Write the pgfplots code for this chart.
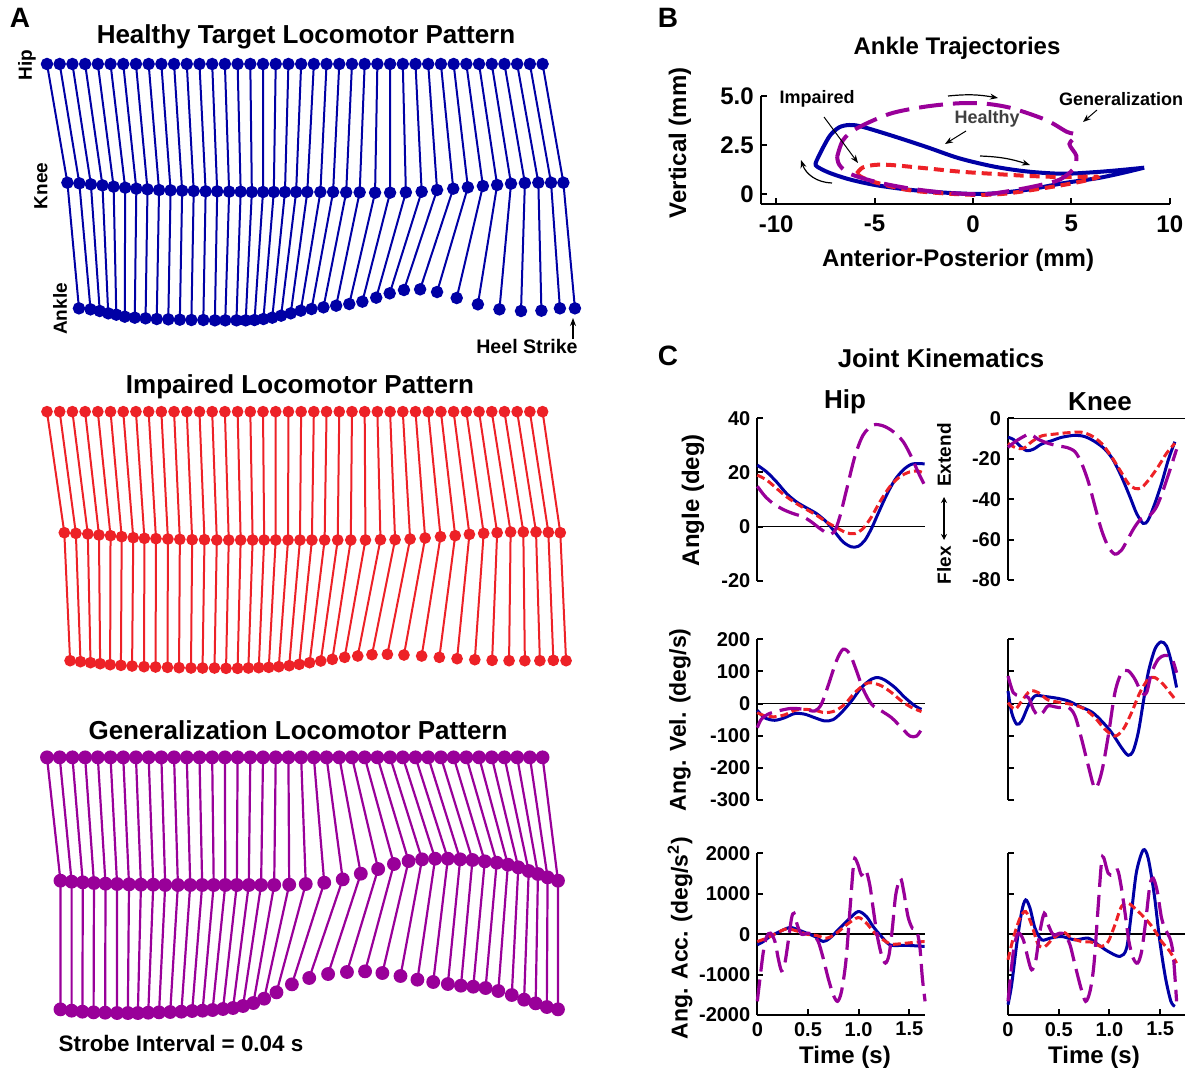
\documentclass[border=0pt]{standalone}
\usepackage{fontspec}
\setmainfont{Liberation Sans}
\usepackage{pgfplots}
\pgfplotsset{compat=1.18}
\usetikzlibrary{arrows.meta}
\definecolor{hb}{RGB}{0,0,165}
\definecolor{ir}{RGB}{237,33,39}
\definecolor{gp}{RGB}{153,0,153}
\newcommand{\fs}[1]{\fontsize{#1}{#1}\selectfont\bfseries}
\pgfplotsset{
  noarrows/.style={axis line style={-}, every outer x axis line/.append style={-}, every outer y axis line/.append style={-}, every inner x axis line/.append style={-}, every inner y axis line/.append style={-}},
  stick/.style={scale only axis, hide axis, clip=false, xmin=0, xmax=1560, ymin=0, y dir=reverse, anchor=north west, width=300.35pt, unbounded coords=jump},
  cax/.style={scale only axis, clip=false, anchor=south west, noarrows,
    axis y line*=left, axis line style={line width=1pt}, tick style={black, line width=1pt}, major tick length=3pt, tick align=inside,
    tick label style={font=\fs{10pt}}, /pgf/number format/assume math mode=true, /pgf/number format/1000 sep={}},
  hipc/.style={cax, width=83.85pt, xmin=0, xmax=1.655},
  kneec/.style={cax, width=88.5pt, xmin=0, xmax=1.745},
  toprow/.style={axis x line=none, xtick=\empty},
  botrow/.style={axis x line*=bottom, xtick={0,0.5,1,1.5}, xticklabels={0,0.5,1.0,1.5}},
  hbl/.style={hb, line width=1.5pt, smooth},
  irl/.style={ir, line width=1.5pt, smooth, dash pattern=on 4pt off 2pt},
  gpl/.style={gp, line width=1.6pt, smooth, dash pattern=on 11pt off 4pt},
  zl/.style={black, line width=0.8pt},
}
\begin{document}
\begin{tikzpicture}
\useasboundingbox (0,0) rectangle (593.5pt,-535pt);
% ---------------- Panel A: Healthy ----------------
\begin{axis}[stick, at={(-0.57pt,0pt)}, height=180pt, ymax=1080]
\addplot[hb, line width=1pt, mark=*, mark size=2.6pt, mark options={solid, fill=hb, draw=hb}] table {
125 192
178 548
208 925
nan nan
158 192
209 550
238 928
nan nan
191 192
239 553
262 933
nan nan
224 192
269 556
284 940
nan nan
257 192
298 560
305 944
nan nan
290 192
328 563
327 950
nan nan
323 192
357 566
353 953
nan nan
356 192
386 568
381 955
nan nan
389 192
416 570
410 957
nan nan
422 192
446 571
440 958
nan nan
455 192
476 572
470 959
nan nan
488 192
506 573
500 960
nan nan
521 192
537 574
531 960
nan nan
554 192
567 574
561 961
nan nan
587 192
598 575
588 961
nan nan
620 192
628 575
617 961
nan nan
653 192
657 576
641 961
nan nan
686 192
686 576
664 960
nan nan
719 192
714 576
687 957
nan nan
752 192
743 576
710 953
nan nan
785 192
772 576
733 947
nan nan
818 192
801 576
758 940
nan nan
851 192
835 576
784 932
nan nan
884 192
868 576
812 927
nan nan
917 192
902 577
843 922
nan nan
950 192
937 577
876 917
nan nan
983 192
977 578
910 912
nan nan
1016 192
1016 578
944 905
nan nan
1049 192
1057 577
980 893
nan nan
1082 192
1098 575
1015 880
nan nan
1115 192
1138 570
1052 870
nan nan
1148 192
1180 566
1094 868
nan nan
1181 192
1218 562
1138 876
nan nan
1214 192
1257 558
1189 894
nan nan
1247 192
1294 555
1244 913
nan nan
1280 192
1330 551
1300 928
nan nan
1313 192
1366 549
1356 933
nan nan
1346 192
1401 548
1409 932
nan nan
1379 192
1434 548
1457 925
nan nan
1412 192
1466 548
1496 925
};
\end{axis}
% ---------------- Panel A: Impaired ----------------
\begin{axis}[stick, at={(-0.57pt,-180pt)}, height=170pt, ymax=1020]
\addplot[ir, line width=1pt, mark=*, mark size=2.4pt, mark options={solid, fill=ir, draw=ir}] table {
125 155
170 518
185 902
nan nan
158 155
200 520
212 905
nan nan
191 155
231 522
238 908
nan nan
224 155
260 525
263 911
nan nan
257 155
290 527
289 914
nan nan
290 155
319 530
317 916
nan nan
323 155
349 533
346 918
nan nan
356 155
378 535
377 920
nan nan
389 155
408 536
407 921
nan nan
422 155
439 537
438 922
nan nan
455 155
470 538
468 923
nan nan
488 155
502 539
499 924
nan nan
521 155
534 539
529 924
nan nan
554 155
566 540
560 924
nan nan
587 155
597 540
590 925
nan nan
620 155
628 540
620 925
nan nan
653 155
659 540
648 924
nan nan
686 155
689 540
675 923
nan nan
719 155
719 540
701 922
nan nan
752 155
751 540
727 920
nan nan
785 155
782 540
754 917
nan nan
818 155
813 540
780 913
nan nan
851 155
846 540
807 908
nan nan
884 155
880 540
836 903
nan nan
917 155
914 540
866 898
nan nan
950 155
952 540
898 892
nan nan
983 155
991 539
932 888
nan nan
1016 155
1029 539
969 884
nan nan
1049 155
1068 537
1009 883
nan nan
1082 155
1107 534
1052 885
nan nan
1115 155
1147 530
1098 888
nan nan
1148 155
1185 527
1144 892
nan nan
1181 155
1222 523
1190 896
nan nan
1214 155
1259 520
1236 899
nan nan
1247 155
1294 518
1281 901
nan nan
1280 155
1329 516
1325 902
nan nan
1313 155
1362 516
1366 902
nan nan
1346 155
1395 516
1405 902
nan nan
1379 155
1427 517
1440 901
nan nan
1412 155
1458 518
1473 902
};
\end{axis}
% ---------------- Panel A: Generalization ----------------
\begin{axis}[stick, at={(-0.57pt,-350pt)}, height=185pt, ymax=1110]
\addplot[gp, line width=1.1pt, mark=*, mark size=2.9pt, mark options={solid, fill=gp, draw=gp}] table {
125 172
160 542
160 928
nan nan
158 172
189 545
189 932
nan nan
191 172
218 547
217 935
nan nan
224 172
247 549
246 937
nan nan
257 172
277 551
276 938
nan nan
290 172
307 552
307 939
nan nan
323 172
338 553
335 939
nan nan
356 172
369 554
361 939
nan nan
389 172
401 554
388 938
nan nan
422 172
432 555
416 937
nan nan
455 172
465 555
445 936
nan nan
488 172
497 555
474 935
nan nan
521 172
528 555
502 933
nan nan
554 172
558 555
529 932
nan nan
587 172
588 555
555 930
nan nan
620 172
618 555
582 927
nan nan
653 172
649 555
608 924
nan nan
686 172
681 555
634 918
nan nan
719 172
715 555
661 909
nan nan
752 172
754 554
689 896
nan nan
785 172
797 552
721 877
nan nan
818 172
845 548
761 853
nan nan
851 172
893 538
806 834
nan nan
884 172
940 521
855 822
nan nan
917 172
985 507
904 816
nan nan
950 172
1026 492
951 814
nan nan
983 172
1064 483
996 819
nan nan
1016 172
1099 478
1043 828
nan nan
1049 172
1133 476
1087 839
nan nan
1082 172
1166 476
1128 846
nan nan
1115 172
1198 478
1166 852
nan nan
1148 172
1230 480
1200 857
nan nan
1181 172
1262 484
1232 860
nan nan
1214 172
1293 488
1264 864
nan nan
1247 172
1322 494
1297 873
nan nan
1280 172
1349 502
1332 885
nan nan
1313 172
1376 513
1364 899
nan nan
1346 172
1400 522
1394 910
nan nan
1379 172
1425 532
1423 921
nan nan
1412 172
1452 542
1452 928
};
\end{axis}
% ---------------- Panel B ----------------
\begin{axis}[cax, at={(380.4pt,-102.15pt)}, width=204.5pt, height=54.15pt,
  xmin=-10.78, xmax=10, ymin=-0.53, ymax=5, axis x line*=bottom,
  xtick={-10,-5,0,5,10}, ytick={0,2.5,5}, yticklabels={0,2.5,5.0},
  tick label style={font=\fs{12pt}}, xticklabel style={yshift=-2pt}]
\addplot[hb, line width=2pt, smooth] table {
8.7 1.34
7.5 1.05
6.3 0.8
4.6 0.55
2.8 0.22
1.1 0.03
0 0
-1.5 0.07
-3.3 0.22
-5.0 0.46
-6.3 0.75
-7.3 1.08
-7.9 1.38
-8.0 1.55
-7.85 1.9
-7.6 2.4
-7.25 3.0
-6.8 3.4
-6.3 3.52
-5.7 3.45
-4.2 3.0
-2.4 2.41
-0.7 1.82
1.1 1.39
2.8 1.14
4.6 1.03
6.3 1.12
7.5 1.22
8.7 1.34
};
\addplot[ir, line width=2pt, smooth, dash pattern=on 5pt off 3pt] table {
-5.9 1.05
-5.6 1.35
-5.0 1.48
-4.2 1.48
-2.4 1.31
-0.7 1.14
1.1 1.02
2.8 0.92
4.6 0.86
6.3 0.88
5.8 0.7
4.6 0.46
2.8 0.17
1.5 0.0
0.2 -0.05
-1.5 0.03
-3.3 0.2
-5.0 0.6
-5.7 0.88
-5.9 1.05
};
\addplot[gp, line width=2pt, smooth, dash pattern=on 12pt off 5pt] table {
-6.9 1.9
-6.6 2.75
-5.9 3.35
-4.2 4.1
-2.4 4.46
-0.7 4.63
0.7 4.6
2.0 4.37
3.7 3.78
4.75 3.18
5.25 3.0
4.9 2.55
5.25 1.95
5.15 1.35
4.75 0.95
4.2 0.65
2.8 0.32
1.1 0.03
0.2 -0.02
-1.5 0.07
-3.3 0.29
-5.0 0.63
-6.3 1.05
-6.8 1.5
-6.9 1.9
};
\end{axis}
% ---------------- Panel C: Hip angle ----------------
\begin{axis}[hipc, toprow, at={(378.65pt,-290.35pt)}, height=81.2pt, ymin=-20, ymax=40, ytick={-20,0,20,40}]
\addplot[zl] coordinates {(0,0) (1.655,0)};
\addplot[hbl] table {
0 22.7
0.092 20.2
0.190 16.5
0.289 12.2
0.387 9.1
0.486 6.9
0.584 4.8
0.683 1.7
0.765 -2.0
0.847 -5.7
0.929 -7.5
0.995 -7.3
1.061 -5.1
1.127 -0.7
1.192 4.8
1.275 11.6
1.357 17.2
1.439 20.9
1.520 23.0
1.602 23.3
1.651 23.1
};
\addplot[irl] table {
0 19.0
0.092 17.2
0.190 14.1
0.289 11.0
0.387 8.5
0.486 6.3
0.584 4.2
0.683 1.7
0.782 -0.4
0.880 -2.3
0.962 -2.6
1.044 -0.7
1.127 3.6
1.209 9.1
1.307 14.7
1.406 18.4
1.505 20.2
1.586 20.5
1.651 19.6
};
\addplot[gpl] table {
0 14.9
0.076 11.2
0.157 8.5
0.256 6.3
0.354 4.8
0.453 3.6
0.535 1.7
0.617 -0.7
0.699 -2.6
0.759 -2.0
0.814 3.6
0.880 13.5
0.962 25.8
1.044 33.8
1.143 37.5
1.242 37.2
1.340 35.1
1.439 31.4
1.520 25.8
1.586 20.2
1.651 15.3
};
\end{axis}
% ---------------- Panel C: Knee angle ----------------
\begin{axis}[kneec, toprow, at={(504pt,-290pt)}, height=80.85pt, ymin=-80, ymax=0, ytick={-80,-60,-40,-20,0}]
\addplot[zl] coordinates {(0,0) (1.745,0)};
\addplot[hbl] table {
0 -9.4
0.052 -10.4
0.118 -13.7
0.184 -16.0
0.250 -15.3
0.332 -12.7
0.430 -11.1
0.529 -9.4
0.660 -8.4
0.759 -9.1
0.858 -11.6
0.955 -15.3
1.037 -20.6
1.119 -28.9
1.202 -38.8
1.267 -47.0
1.333 -52.0
1.382 -50.3
1.448 -42.1
1.514 -32.2
1.580 -20.6
1.645 -11.6
};
\addplot[irl] table {
0 -12.4
0.069 -14.4
0.151 -14.9
0.233 -11.6
0.332 -8.7
0.463 -7.8
0.595 -7.1
0.726 -6.9
0.825 -8.7
0.922 -12.4
1.021 -19.0
1.103 -25.6
1.185 -32.2
1.251 -34.7
1.317 -34.3
1.399 -29.7
1.481 -23.9
1.563 -17.3
1.645 -12.4
};
\addplot[gpl] table {
0 -14.4
0.069 -11.6
0.151 -9.1
0.217 -7.8
0.299 -10.4
0.397 -12.4
0.496 -13.7
0.578 -14.4
0.660 -16.5
0.726 -22.3
0.792 -31.4
0.858 -43.7
0.922 -55.3
0.988 -63.5
1.054 -67.2
1.119 -65.2
1.185 -59.4
1.251 -53.6
1.317 -49.5
1.399 -47.9
1.465 -43.7
1.530 -35.5
1.596 -25.6
1.662 -15.3
};
\end{axis}
% ---------------- Panel C: Hip velocity ----------------
\begin{axis}[hipc, toprow, at={(378.65pt,-400pt)}, height=80.35pt, ymin=-300, ymax=200, ytick={-300,-200,-100,0,100,200}]
\addplot[zl] coordinates {(0,0) (1.655,0)};
\addplot[hbl] table {
0 -21
0.072 -44
0.171 -52
0.270 -44
0.369 -31
0.468 -33
0.567 -44
0.665 -54
0.748 -50
0.830 -28
0.929 8
1.028 50
1.127 76
1.193 81
1.259 73
1.358 50
1.456 19
1.555 -7
1.620 -18
};
\addplot[irl] table {
0 -28
0.072 -38
0.171 -41
0.270 -35
0.369 -21
0.468 -18
0.567 -21
0.665 -28
0.764 -23
0.863 -2
0.962 34
1.061 60
1.127 65
1.226 55
1.325 34
1.423 8
1.522 -12
1.620 -25
};
\addplot[gpl] table {
0 -75
0.039 -49
0.105 -33
0.204 -23
0.336 -15
0.468 -18
0.567 -23
0.632 -2
0.698 55
0.781 133
0.847 169
0.913 154
0.979 102
1.044 45
1.127 -2
1.226 -23
1.325 -44
1.423 -75
1.506 -101
1.572 -101
1.620 -80
};
\end{axis}
% ---------------- Panel C: Knee velocity ----------------
\begin{axis}[kneec, toprow, at={(504pt,-400pt)}, height=80.35pt, ymin=-300, ymax=200, ytick={-300,-200,-100,0,100,200}, yticklabels={}]
\addplot[zl] coordinates {(0,0) (1.745,0)};
\addplot[hbl] table {
0 39
0.036 -28
0.085 -64
0.135 -54
0.200 -7
0.266 24
0.365 22
0.496 16
0.595 8
0.693 -7
0.825 -26
0.922 -54
1.021 -90
1.119 -137
1.185 -161
1.234 -147
1.284 -90
1.333 3
1.382 96
1.448 169
1.508 192
1.563 179
1.612 127
1.662 50
};
\addplot[irl] table {
0 3
0.069 -18
0.135 8
0.217 39
0.299 34
0.397 11
0.529 3
0.660 -5
0.759 -18
0.858 -44
0.955 -80
1.054 -101
1.136 -80
1.218 -28
1.300 34
1.382 76
1.448 81
1.530 60
1.596 34
1.662 8
};
\addplot[gpl] table {
0 86
0.052 34
0.118 24
0.200 19
0.250 -18
0.299 -38
0.348 -26
0.397 -7
0.496 -12
0.595 -12
0.660 -38
0.726 -111
0.792 -194
0.858 -264
0.922 -215
0.988 -101
1.054 34
1.119 96
1.185 102
1.251 76
1.317 34
1.366 34
1.415 96
1.481 138
1.547 150
1.612 143
1.662 96
};
\end{axis}
% ---------------- Panel C: Hip acceleration ----------------
\begin{axis}[hipc, botrow, at={(378.65pt,-507.5pt)}, height=80.85pt, ymin=-2000, ymax=2000, ytick={-2000,-1000,0,1000,2000}]
\addplot[zl] coordinates {(0,0) (1.655,0)};
\addplot[hbl] table {
0 -263
0.060 -181
0.124 -58
0.223 66
0.321 165
0.404 107
0.486 25
0.568 -58
0.650 -181
0.716 -99
0.798 107
0.897 354
0.995 560
1.077 436
1.143 189
1.225 -58
1.307 -263
1.406 -280
1.504 -280
1.651 -304
};
\addplot[irl] table {
0 -181
0.092 -99
0.190 25
0.289 132
0.387 82
0.486 0
0.584 -33
0.683 -99
0.782 25
0.880 230
0.995 411
1.077 272
1.160 25
1.242 -140
1.324 -247
1.439 -230
1.536 -206
1.651 -181
};
\addplot[gpl] table {
0 -1662
0.027 -1086
0.060 -428
0.092 -58
0.131 25
0.174 -181
0.206 -593
0.239 -905
0.272 -716
0.305 -181
0.338 395
0.362 518
0.394 230
0.436 0
0.502 25
0.552 -16
0.601 -181
0.650 -593
0.699 -1086
0.749 -1498
0.792 -1662
0.831 -1416
0.874 -675
0.913 560
0.946 1630
0.962 1876
0.995 1712
1.028 1465
1.070 1588
1.110 1218
1.143 642
1.182 -16
1.225 -510
1.264 -716
1.300 -510
1.333 148
1.366 971
1.412 1383
1.445 1053
1.487 436
1.530 148
1.569 107
1.602 -263
1.629 -1086
1.656 -1662
};
\end{axis}
% ---------------- Panel C: Knee acceleration ----------------
\begin{axis}[kneec, botrow, at={(504pt,-507.5pt)}, height=80.85pt, ymin=-2000, ymax=2000, ytick={-2000,-1000,0,1000,2000}, yticklabels={}]
\addplot[zl] coordinates {(0,0) (1.745,0)};
\addplot[hbl] table {
0 -1745
0.036 -1251
0.085 -263
0.135 560
0.174 848
0.217 642
0.266 148
0.332 -140
0.414 -99
0.529 -58
0.660 -140
0.792 -99
0.890 -263
0.988 -428
1.103 -551
1.169 -346
1.218 560
1.267 1547
1.333 2082
1.382 1876
1.442 971
1.497 -181
1.553 -1086
1.606 -1662
1.645 -1786
};
\addplot[irl] table {
0 -634
0.052 -99
0.118 395
0.174 560
0.233 230
0.299 -263
0.365 -304
0.447 -99
0.545 49
0.627 -99
0.726 -181
0.825 -198
0.922 -304
0.988 -181
1.054 230
1.119 683
1.185 765
1.267 601
1.350 395
1.432 148
1.514 -181
1.596 -428
1.662 -716
};
\addplot[gpl] table {
0 -1662
0.030 -922
0.063 -263
0.102 25
0.151 -140
0.200 -634
0.233 -881
0.272 -675
0.315 66
0.358 518
0.397 230
0.447 -16
0.512 25
0.562 -16
0.611 -263
0.660 -757
0.719 -1333
0.765 -1662
0.808 -1416
0.847 -757
0.890 724
0.922 1794
0.943 1893
0.988 1506
1.037 1465
1.080 1588
1.113 1218
1.152 560
1.192 -181
1.234 -593
1.278 -716
1.317 -428
1.357 313
1.399 1218
1.432 1383
1.472 1053
1.514 395
1.553 107
1.596 -99
1.629 -510
1.662 -1662
};
\end{axis}
% ---------------- Text ----------------
\begin{scope}[x=0.5pt,y=-0.5pt]
\node[font=\fs{14pt}] at (20,18) {A};
\node[font=\fs{13pt}] at (306,37) {Healthy Target Locomotor Pattern};
\node[font=\fs{13pt}] at (300,387) {Impaired Locomotor Pattern};
\node[font=\fs{13pt}] at (298,730) {Generalization Locomotor Pattern};
\node[font=\fs{9.5pt}, rotate=90] at (27,65) {Hip};
\node[font=\fs{9.5pt}, rotate=90] at (41,186) {Knee};
\node[font=\fs{9.5pt}, rotate=90] at (60,309) {Ankle};
\node[font=\fs{9.8pt}] at (527,346) {Heel Strike};
\draw[-{Stealth[length=4pt,width=3pt]}, line width=0.6pt] (573,339) -- (573,318);
\node[font=\fs{11.2pt}] at (181,1043) {Strobe Interval = 0.04 s};
\node[font=\fs{14pt}] at (668,18) {B};
\node[font=\fs{12pt}] at (957,48) {Ankle Trajectories};
\node[font=\fs{12pt}, rotate=90] at (680,143) {Vertical (mm)};
\node[font=\fs{12pt}] at (958,260) {Anterior-Posterior (mm)};
\node[font=\fs{9pt}] at (817,99) {Impaired};
\node[font=\fs{9pt}] at (1121,99) {Generalization};
\node[font=\fs{9pt}, text=black!75] at (987,119) {Healthy};
\draw[-{Stealth[length=4pt,width=3pt]}, line width=0.5pt] (824,117) -- (858,163);
\draw[-{Stealth[length=4pt,width=3pt]}, line width=0.5pt] (1097,110) -- (1083,122);
\draw[-{Stealth[length=4pt,width=3pt]}, line width=0.5pt] (966,131) -- (945,144);
\draw[-{Stealth[length=4pt,width=3pt]}, line width=0.6pt] (948,96) to[bend left=8] (998,98);
\draw[-{Stealth[length=4pt,width=3pt]}, line width=0.6pt] (980,156) to[bend left=8] (1030,165);
\draw[-{Stealth[length=4pt,width=3pt]}, line width=0.6pt] (832,183) to[bend left=35] (801,160);
\node[font=\fs{14pt}] at (668,356) {C};
\node[font=\fs{12.9pt}] at (941,358) {Joint Kinematics};
\node[font=\fs{13pt}] at (845,402) {Hip};
\node[font=\fs{13pt}] at (1100,402) {Knee};
\node[font=\fs{12pt}, rotate=90] at (693,500) {Angle (deg)};
\node[font=\fs{11.5pt}, rotate=90] at (680,720) {Ang. Vel. (deg/s)};
\node[font=\fs{11.5pt}, rotate=90] at (680,938) {Ang. Acc. (deg/s\textsuperscript{2})};
\node[font=\fs{9.5pt}, rotate=90] at (944,455) {Extend};
\draw[{Stealth[length=3pt,width=3pt]}-{Stealth[length=3pt,width=3pt]}, line width=0.6pt] (944,497) -- (944,540);
\node[font=\fs{9.5pt}, rotate=90] at (944,565) {Flex};
\node[font=\fs{12pt}] at (845,1057) {Time (s)};
\node[font=\fs{12pt}] at (1094,1057) {Time (s)};
\end{scope}
\end{tikzpicture}
\end{document}
